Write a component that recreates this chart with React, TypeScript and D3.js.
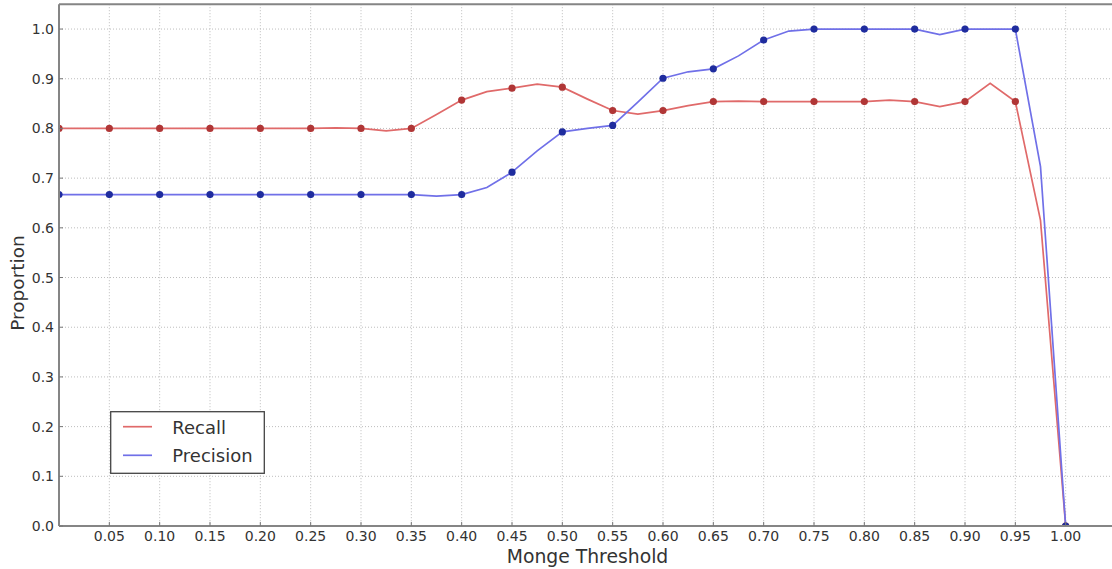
import React from "react";
import * as d3 from "d3";

// Threshold sampled every 0.025; markers drawn on every second sample.
const thresholds = [
  0.0, 0.025, 0.05, 0.075, 0.1, 0.125, 0.15, 0.175, 0.2, 0.225, 0.25, 0.275,
  0.3, 0.325, 0.35, 0.375, 0.4, 0.425, 0.45, 0.475, 0.5, 0.525, 0.55, 0.575,
  0.6, 0.625, 0.65, 0.675, 0.7, 0.725, 0.75, 0.775, 0.8, 0.825, 0.85, 0.875,
  0.9, 0.925, 0.95, 0.975, 1.0,
];

const recall = [
  0.8, 0.8, 0.8, 0.8, 0.8, 0.8, 0.8, 0.8, 0.8, 0.8, 0.8, 0.801,
  0.8, 0.795, 0.8, 0.828, 0.857, 0.874, 0.881, 0.889, 0.883, 0.859, 0.836, 0.829,
  0.836, 0.846, 0.854, 0.855, 0.854, 0.854, 0.854, 0.854, 0.854, 0.857, 0.854, 0.844,
  0.854, 0.891, 0.854, 0.615, 0.0,
];

const precision = [
  0.667, 0.667, 0.667, 0.667, 0.667, 0.667, 0.667, 0.667, 0.667, 0.667, 0.667, 0.667,
  0.667, 0.667, 0.667, 0.664, 0.667, 0.681, 0.712, 0.755, 0.793, 0.8, 0.806, 0.853,
  0.901, 0.914, 0.92, 0.946, 0.978, 0.996, 1.0, 1.0, 1.0, 1.0, 1.0, 0.989,
  1.0, 1.0, 1.0, 0.723, 0.0,
];

const xTicks = [
  0.05, 0.1, 0.15, 0.2, 0.25, 0.3, 0.35, 0.4, 0.45, 0.5, 0.55, 0.6, 0.65, 0.7,
  0.75, 0.8, 0.85, 0.9, 0.95, 1.0,
];
const yTicks = [0.0, 0.1, 0.2, 0.3, 0.4, 0.5, 0.6, 0.7, 0.8, 0.9, 1.0];

const seriesNames = ["Recall", "Precision"];

const W = 1112;
const H = 569;
const left = 59;
const right = 1116;
const top = 4.2;
const bottom = 526;

const FONT = "'DejaVu Sans', 'Liberation Sans', sans-serif";

export default function App() {
  const x = d3.scaleLinear().domain([0, 1.05]).range([left, right]);
  const y = d3.scaleLinear().domain([0, 1.05]).range([bottom, top]);

  const series = [
    { name: seriesNames[0], values: recall, line: "#e06a6a", dot: "#b03636" },
    { name: seriesNames[1], values: precision, line: "#7070e8", dot: "#1f2c9e" },
  ];

  const line = d3
    .line<number>()
    .x((_, i) => x(thresholds[i]))
    .y((v) => y(v));

  return (
    <svg
      width={W}
      height={H}
      style={{ position: "absolute", left: 0, top: 0, background: "#fff" }}
      fontFamily={FONT}
    >
      <defs>
        <clipPath id="plot-clip">
          <rect x={left} y={top} width={right - left} height={bottom - top} />
        </clipPath>
      </defs>
      <rect width={W} height={H} fill="#fff" />

      {/* grid */}
      <g stroke="#bdbdbd" strokeWidth={1} strokeDasharray="1,2">
        {xTicks.map((t) => (
          <line key={"gx" + t} x1={x(t)} x2={x(t)} y1={top} y2={bottom} />
        ))}
        {yTicks.map((t) => (
          <line key={"gy" + t} x1={left} x2={right} y1={y(t)} y2={y(t)} />
        ))}
      </g>

      {/* series */}
      <g clipPath="url(#plot-clip)">
        {series.map((s) => (
          <g key={s.name}>
            <path d={line(s.values) || ""} fill="none" stroke={s.line} strokeWidth={1.7} />
            {s.values.map((v, i) =>
              i % 2 === 0 ? (
                <circle key={i} cx={x(thresholds[i])} cy={y(v)} r={3.6} fill={s.dot} />
              ) : null
            )}
          </g>
        ))}
      </g>

      {/* frame */}
      <g stroke="#858585" strokeWidth={2} fill="none">
        <line x1={left} x2={right} y1={top} y2={top} />
        <line x1={left} x2={left} y1={top} y2={bottom} />
        <line x1={left} x2={right} y1={bottom} y2={bottom} />
      </g>

      {/* tick marks */}
      <g stroke="#777" strokeWidth={1}>
        {xTicks.map((t) => (
          <line key={"tx" + t} x1={x(t)} x2={x(t)} y1={bottom} y2={bottom - 4} />
        ))}
        {yTicks.map((t) => (
          <line key={"ty" + t} x1={left} x2={left + 4} y1={y(t)} y2={y(t)} />
        ))}
      </g>

      {/* tick labels */}
      <g fontSize={14} fill="#333">
        {xTicks.map((t) => (
          <text key={"lx" + t} x={x(t)} y={541} textAnchor="middle">
            {d3.format(".2f")(t)}
          </text>
        ))}
        {yTicks.map((t) => (
          <text key={"ly" + t} x={54} y={y(t)} textAnchor="end" dominantBaseline="central">
            {d3.format(".1f")(t)}
          </text>
        ))}
      </g>

      {/* axis titles */}
      <text x={(left + right) / 2} y={563} textAnchor="middle" fontSize={18.8} fill="#333">
        Monge Threshold
      </text>
      <text
        transform={`translate(24, 283) rotate(-90)`}
        textAnchor="middle"
        fontSize={18.5}
        fill="#333"
      >
        Proportion
      </text>

      {/* legend */}
      <g>
        <rect x={110.7} y={411.7} width={153.6} height={61.6} fill="#fff" stroke="#444" strokeWidth={1.3} />
        {series.map((s, i) => (
          <g key={"lg" + s.name}>
            <line x1={123} x2={152} y1={426.7 + i * 28.6} y2={426.7 + i * 28.6} stroke={s.line} strokeWidth={1.7} />
            <text x={172.3} y={434 + i * 28.3} fontSize={18} fill="#333">
              {s.name}
            </text>
          </g>
        ))}
      </g>
    </svg>
  );
}
